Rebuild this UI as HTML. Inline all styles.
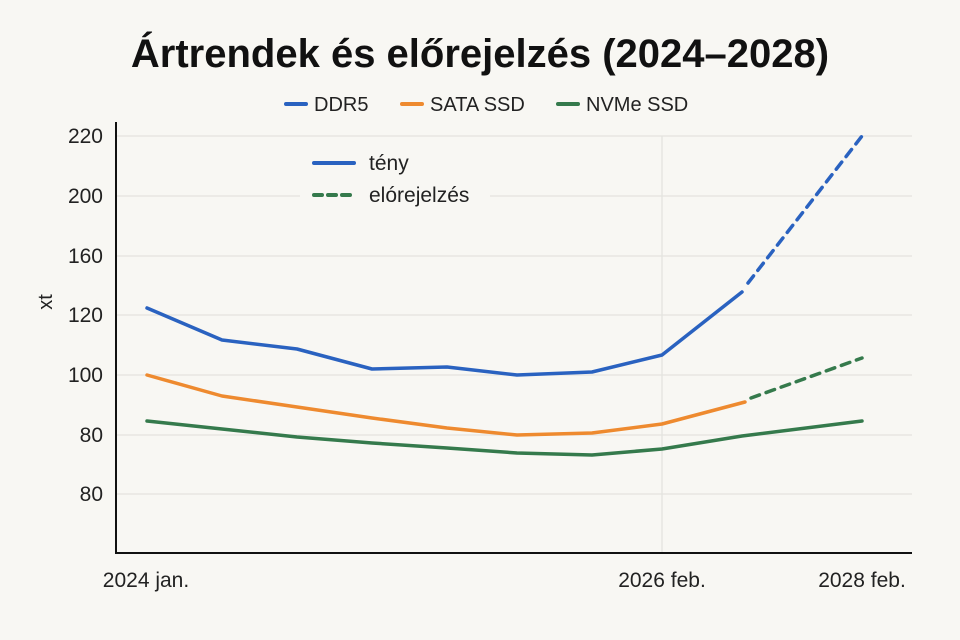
<!DOCTYPE html>
<html><head><meta charset="utf-8"><style>
html,body{margin:0;padding:0;background:#f8f7f3;}
svg{display:block;font-family:"Liberation Sans",sans-serif;}
</style></head><body>
<svg width="960" height="640" viewBox="0 0 960 640">
<rect width="960" height="640" fill="#f8f7f3"/>
<text x="480" y="67" text-anchor="middle" font-size="40" font-weight="bold" fill="#111">Ártrendek és előrejelzés (2024–2028)</text>
<g font-size="20" fill="#222">
<line x1="286" y1="104" x2="306" y2="104" stroke="#2a62c0" stroke-width="4" stroke-linecap="round"/>
<text x="314" y="111">DDR5</text>
<line x1="402" y1="104" x2="422" y2="104" stroke="#ee8a2f" stroke-width="4" stroke-linecap="round"/>
<text x="430" y="111">SATA SSD</text>
<line x1="558" y1="104" x2="578" y2="104" stroke="#357a4c" stroke-width="4" stroke-linecap="round"/>
<text x="586" y="111">NVMe SSD</text>
</g>
<g stroke="#e4e3df" stroke-width="1.3">
<line x1="117" y1="136" x2="912" y2="136"/>
<line x1="117" y1="196" x2="912" y2="196"/>
<line x1="117" y1="256" x2="912" y2="256"/>
<line x1="117" y1="315" x2="912" y2="315"/>
<line x1="117" y1="375" x2="912" y2="375"/>
<line x1="117" y1="435" x2="912" y2="435"/>
<line x1="117" y1="494" x2="912" y2="494"/>
<line x1="662" y1="136" x2="662" y2="552"/>
</g>
<rect x="300" y="150" width="190" height="60" fill="#f8f7f3"/>
<line x1="116" y1="122" x2="116" y2="553" stroke="#111" stroke-width="2"/>
<line x1="115" y1="553" x2="912" y2="553" stroke="#111" stroke-width="2"/>
<g font-size="21" fill="#222" text-anchor="end">
<text x="103" y="143">220</text><text x="103" y="203">200</text><text x="103" y="263">160</text>
<text x="103" y="322">120</text><text x="103" y="382">100</text><text x="103" y="442">80</text><text x="103" y="501">80</text>
</g>
<text transform="translate(52,302) rotate(-90)" font-size="20" fill="#222" text-anchor="middle">xt</text>
<g font-size="21" fill="#222" text-anchor="middle">
<text x="146" y="587">2024 jan.</text><text x="662" y="587">2026 feb.</text><text x="862" y="587">2028 feb.</text>
</g>
<line x1="314" y1="163" x2="354" y2="163" stroke="#2a62c0" stroke-width="4" stroke-linecap="round"/>
<text x="369" y="170" font-size="21" fill="#222">tény</text>
<line x1="314" y1="195" x2="354" y2="195" stroke="#357a4c" stroke-width="4" stroke-dasharray="8,6" stroke-linecap="round"/>
<text x="369" y="202" font-size="21" fill="#222">elórejelzés</text>
<g fill="none" stroke-width="3.5" stroke-linejoin="round" stroke-linecap="round">
<polyline stroke="#2a62c0" points="147,308 222,340 297,349 372,369 447,367 517,375 592,372 662,355 742,292"/>
<polyline stroke="#2a62c0" stroke-dasharray="9,7" points="748,283 862,136"/>
<polyline stroke="#ee8a2f" points="147,375 222,396 297,407 372,418 447,428 517,435 592,433 662,424 745,402"/>
<polyline stroke="#357a4c" stroke-dasharray="9,7" points="751,398 862,358"/>
<polyline stroke="#357a4c" points="147,421 222,429 297,437 372,443 447,448 517,453 592,455 662,449 742,436 862,421"/>
</g>
</svg>
</body></html>
